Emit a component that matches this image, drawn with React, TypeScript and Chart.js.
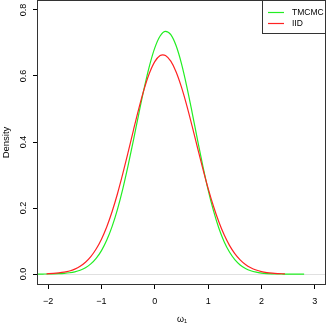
import React, { useEffect, useRef } from "react";
import { Chart, registerables } from "chart.js";

Chart.register(...registerables);

const SERIES_NAMES = ["TMCMC", "IID"];
const SERIES_COLORS = ["#22ee22", "#ff2222"];

const TMCMC_X = [-2.2, -2.1, -2.0, -1.9, -1.8, -1.7, -1.6, -1.5, -1.4, -1.3, -1.2, -1.1, -1.0, -0.9, -0.8, -0.7, -0.6, -0.5, -0.4, -0.3, -0.2, -0.1, 0.0, 0.1, 0.2, 0.3, 0.4, 0.5, 0.6, 0.7, 0.8, 0.9, 1.0, 1.1, 1.2, 1.3, 1.4, 1.5, 1.6, 1.7, 1.8, 1.9, 2.0, 2.1, 2.2, 2.3, 2.4, 2.5, 2.6, 2.7, 2.8];
const TMCMC_Y = [0.0001, 0.0002, 0.0003, 0.0006, 0.0012, 0.0022, 0.004, 0.0069, 0.0118, 0.0194, 0.0309, 0.0476, 0.0712, 0.103, 0.1444, 0.1962, 0.2581, 0.329, 0.406, 0.4855, 0.5621, 0.6306, 0.6851, 0.721, 0.735, 0.725, 0.6913, 0.6374, 0.5679, 0.4893, 0.4074, 0.328, 0.2552, 0.192, 0.1396, 0.0981, 0.0667, 0.0438, 0.0278, 0.0171, 0.0101, 0.0058, 0.0032, 0.0017, 0.0009, 0.0004, 0.0002, 0.0001, 0.0001, 0.0, 0.0];

const IID_X = [-2.03, -1.9, -1.8, -1.7, -1.6, -1.5, -1.4, -1.3, -1.2, -1.1, -1.0, -0.9, -0.8, -0.7, -0.6, -0.5, -0.4, -0.3, -0.2, -0.1, 0.0, 0.1, 0.15, 0.2, 0.3, 0.4, 0.5, 0.6, 0.7, 0.8, 0.9, 1.0, 1.1, 1.2, 1.3, 1.4, 1.5, 1.6, 1.7, 1.8, 1.9, 2.0, 2.1, 2.2, 2.3, 2.44];
const IID_Y = [0.0009, 0.0019, 0.0034, 0.0057, 0.0094, 0.0151, 0.0236, 0.0358, 0.0528, 0.0758, 0.1058, 0.1436, 0.1896, 0.2434, 0.304, 0.3692, 0.4363, 0.5013, 0.5601, 0.6088, 0.6436, 0.6617, 0.664, 0.6618, 0.6449, 0.6122, 0.5662, 0.5103, 0.4481, 0.3833, 0.3195, 0.2595, 0.2054, 0.1583, 0.1189, 0.0871, 0.0621, 0.0432, 0.0292, 0.0193, 0.0124, 0.0077, 0.0047, 0.0028, 0.0016, 0.0007];

const X_TICKS = [-2, -1, 0, 1, 2, 3];
const Y_TICKS = [0.0, 0.2, 0.4, 0.6, 0.8];
const Y_TICK_LABELS = ["0.0", "0.2", "0.4", "0.6", "0.8"];
const X_TITLE = "ω₁";
const Y_TITLE = "Density";

const FONT = "'Liberation Sans', Arial, Helvetica, sans-serif";

const decorPlugin = {
  id: "decor",
  beforeDatasetsDraw(chart: any) {
    const { ctx, chartArea, scales } = chart;
    const y0 = Math.round(scales.y.getPixelForValue(0)) + 0.5;
    ctx.save();
    ctx.strokeStyle = "#e0e0e0";
    ctx.lineWidth = 1;
    ctx.beginPath();
    ctx.moveTo(chartArea.left, y0);
    ctx.lineTo(chartArea.right, y0);
    ctx.stroke();
    ctx.restore();
  },
  afterDraw(chart: any) {
    const { ctx, chartArea, scales } = chart;
    ctx.save();
    // box
    ctx.strokeStyle = "#333";
    ctx.lineWidth = 1;
    ctx.strokeRect(chartArea.left - 0.5, chartArea.top - 0.5, chartArea.right - chartArea.left, chartArea.bottom - chartArea.top + 1);
    // y tick labels (rotated)
    ctx.fillStyle = "#000";
    ctx.font = `9px ${FONT}`;
    ctx.textAlign = "center";
    ctx.textBaseline = "middle";
    Y_TICKS.forEach((v, i) => {
      const py = scales.y.getPixelForValue(v);
      ctx.save();
      ctx.translate(24, py);
      ctx.rotate(-Math.PI / 2);
      ctx.fillText(Y_TICK_LABELS[i], 0, 0);
      ctx.restore();
    });
    // titles
    ctx.font = `9px ${FONT}`;
    ctx.fillText(X_TITLE, (chartArea.left + chartArea.right) / 2, 320);
    ctx.font = `9.5px ${FONT}`;
    ctx.save();
    ctx.translate(6, (chartArea.top + chartArea.bottom) / 2);
    ctx.rotate(-Math.PI / 2);
    ctx.fillText(Y_TITLE, 0, 0);
    ctx.restore();
    // legend
    const lx = 262.5, ly = 0.5, lw = 63, lh = 33;
    ctx.fillStyle = "#fff";
    ctx.fillRect(lx, ly, lw, lh);
    ctx.strokeStyle = "#333";
    ctx.lineWidth = 1;
    ctx.strokeRect(lx, ly, lw, lh);
    ctx.font = `8.5px ${FONT}`;
    ctx.textAlign = "left";
    SERIES_NAMES.forEach((name, idx) => {
      const yy = 12 + idx * 11;
      ctx.strokeStyle = SERIES_COLORS[idx];
      ctx.lineWidth = 1.2;
      ctx.beginPath();
      ctx.moveTo(268, yy + 0.5);
      ctx.lineTo(284, yy + 0.5);
      ctx.stroke();
      ctx.fillStyle = "#000";
      ctx.fillText(name, 292, yy + 1);
    });
    ctx.restore();
  },
};

export default function App() {
  const ref = useRef<HTMLCanvasElement | null>(null);
  useEffect(() => {
    if (!ref.current) return;
    const chart = new Chart(ref.current, {
      type: "line",
      data: {
        datasets: [
          {
            label: SERIES_NAMES[0],
            data: TMCMC_X.map((x, i) => ({ x, y: TMCMC_Y[i] })),
            borderColor: SERIES_COLORS[0],
            borderWidth: 1.2,
            pointRadius: 0,
            fill: false,
            cubicInterpolationMode: "monotone",
            order: 2,
          },
          {
            label: SERIES_NAMES[1],
            data: IID_X.map((x, i) => ({ x, y: IID_Y[i] })),
            borderColor: SERIES_COLORS[1],
            borderWidth: 1.2,
            pointRadius: 0,
            fill: false,
            cubicInterpolationMode: "monotone",
            order: 1,
          },
        ],
      },
      options: {
        animation: false,
        responsive: false,
        maintainAspectRatio: false,
        layout: { padding: { top: 1, right: 1, left: 0, bottom: 0 } },
        plugins: { legend: { display: false }, tooltip: { enabled: false } },
        scales: {
          x: {
            type: "linear",
            min: -2.19,
            max: 3.21,
            afterBuildTicks: (s: any) => {
              s.ticks = X_TICKS.map((v) => ({ value: v }));
            },
            afterFit: (s: any) => {
              s.height = 43;
            },
            border: { display: false },
            grid: { drawOnChartArea: false, drawTicks: true, tickLength: 5, tickColor: "#000" },
            ticks: {
              color: "#000",
              font: { family: FONT, size: 9 },
              padding: 7,
              maxRotation: 0,
              callback: (v: any) => String(v).replace("-", "−"),
            },
          },
          y: {
            type: "linear",
            min: -0.03,
            max: 0.827,
            afterBuildTicks: (s: any) => {
              s.ticks = Y_TICKS.map((v) => ({ value: v }));
            },
            afterFit: (s: any) => {
              s.width = 38;
            },
            border: { display: false },
            grid: { drawOnChartArea: false, drawTicks: true, tickLength: 5, tickColor: "#000" },
            ticks: { display: false },
          },
        },
      },
      plugins: [decorPlugin],
    });
    return () => chart.destroy();
  }, []);
  return (
    <div style={{ position: "fixed", left: 0, top: 0, width: 327, height: 327, background: "#fff" }}>
      <canvas ref={ref} width={327} height={327} style={{ width: 327, height: 327 }} />
    </div>
  );
}
